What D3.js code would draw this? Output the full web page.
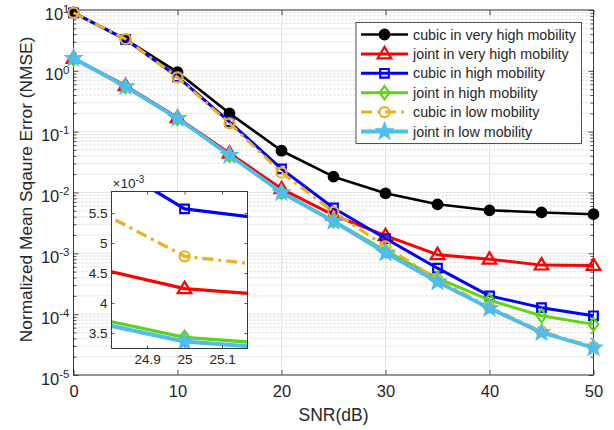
<!DOCTYPE html>
<html>
<head>
<meta charset="utf-8">
<script src="https://cdn.jsdelivr.net/npm/d3@7"></script>
<style>
  body { margin: 0; background: #fff; }
  svg { display: block; }
  text { font-family: "Liberation Sans", Arial, Helvetica, sans-serif; fill: #262626; }
</style>
</head>
<body>
<svg id="chart" width="614" height="430"></svg>
<script>
// SNR sweep (dB)
const snr = [0, 5, 10, 15, 20, 25, 30, 35, 40, 45, 50];

// NMSE per scheme
const cubicVeryHigh = [9.1, 3.3, 0.95, 0.2, 0.0486, 0.0182, 0.0097, 0.0064, 0.0051, 0.0047, 0.0044];
const jointVeryHigh = [1.6, 0.57, 0.17, 0.044, 0.0115, 0.00424, 0.00195, 0.00095, 0.0008, 0.00064, 0.00063];
const cubicHigh     = [9.0, 3.3, 0.8, 0.145, 0.0245, 0.00557, 0.00175, 0.00057, 0.0002, 0.000128, 0.000094];
const jointHigh     = [1.58, 0.55, 0.165, 0.041, 0.0101, 0.00343, 0.0011, 0.00039, 0.00017, 0.000094, 0.000068];
const cubicLow      = [9.0, 3.34, 0.78, 0.137, 0.0212, 0.00478, 0.0013, 0.00037, 0.00013, 0.000052, 0.000029];
const jointLow      = [1.61, 0.55, 0.166, 0.041, 0.0100, 0.00336, 0.00102, 0.00034, 0.000125, 0.00005, 0.000028];

const seriesNames = [
  "cubic in very high mobility",
  "joint in very high mobility",
  "cubic in high mobility",
  "joint in high mobility",
  "cubic in low mobility",
  "joint in low mobility"
];

// Axis ticks
const xTicks = [0, 10, 20, 30, 40, 50];
const yExponents = [1, 0, -1, -2, -3, -4, -5];
const insetXTicks = [24.9, 25, 25.1];
const insetYTicks = [0.0035, 0.004, 0.0045, 0.005, 0.0055];

const seriesValues = [cubicVeryHigh, jointVeryHigh, cubicHigh, jointHigh, cubicLow, jointLow];
const styles = [
  { color: "#000000", width: 2.6, dash: null, marker: "circle", fill: true },
  { color: "#ff0000", width: 3.0, dash: null, marker: "triangle", fill: false },
  { color: "#0000ff", width: 3.0, dash: null, marker: "square", fill: false },
  { color: "#5fd316", width: 3.0, dash: null, marker: "diamond", fill: false },
  { color: "#edb120", width: 3.0, dash: "11,5,3,5", marker: "ocircle", fill: false },
  { color: "#4dbeee", width: 3.8, dash: null, marker: "star", fill: true }
];
const series = seriesNames.map((name, i) => ({
  name, style: styles[i],
  points: snr.map((s, j) => ({ x: s, y: seriesValues[i][j] }))
}));

const svg = d3.select("#chart");
const M = { left: 73.5, right: 593.5, top: 10, bottom: 375 };
const W = M.right - M.left, H = M.bottom - M.top;
const axisColor = "#262626";
const FONT = '"Liberation Sans", Arial, sans-serif';

const x = d3.scaleLinear().domain([0, 50]).range([M.left, M.right]);
const y = d3.scaleLog().domain([1e-5, 10]).range([M.bottom, M.top]);

// marker shapes
function markerPath(kind) {
  switch (kind) {
    case "circle": return d3.symbol(d3.symbolCircle, 72)();
    case "ocircle": return d3.symbol(d3.symbolCircle, 80)();
    case "triangle": return "M0,-7L6.8,4.4L-6.8,4.4Z";
    case "square": return "M-4.3,-4.3H4.3V4.3H-4.3Z";
    case "diamond": return "M0,-6.6L4.8,0L0,6.6L-4.8,0Z";
    case "star": {
      const pts = [];
      for (let k = 0; k < 10; k++) {
        const r = k % 2 === 0 ? 9 : 3.7;
        const a = -Math.PI / 2 + k * Math.PI / 5;
        pts.push([r * Math.cos(a), r * Math.sin(a)]);
      }
      return "M" + pts.map(p => p.join(",")).join("L") + "Z";
    }
  }
}
function drawMarker(sel, st) {
  sel.append("path")
    .attr("d", markerPath(st.marker))
    .attr("fill", st.fill ? st.color : "none")
    .attr("stroke", st.color)
    .attr("stroke-width", st.marker === "star" ? 1.2 : 2.2)
    .attr("stroke-linejoin", "miter");
}

// grid: minor (dotted) then major
const minorVals = [];
for (let e = -5; e < 1; e++) for (let m = 2; m <= 9; m++) minorVals.push(m * Math.pow(10, e));
const grid = svg.append("g");
grid.selectAll(".minor").data(minorVals).join("line")
  .attr("x1", M.left).attr("x2", M.right)
  .attr("y1", d => y(d)).attr("y2", d => y(d))
  .attr("stroke", "#c4c4c4").attr("stroke-width", 0.7).attr("stroke-dasharray", "2,2");
grid.selectAll(".hmaj").data(yExponents.map(e => Math.pow(10, e))).join("line")
  .attr("x1", M.left).attr("x2", M.right)
  .attr("y1", d => y(d)).attr("y2", d => y(d))
  .attr("stroke", "#dedede").attr("stroke-width", 0.8);
grid.selectAll(".vmaj").data(xTicks).join("line")
  .attr("x1", d => x(d)).attr("x2", d => x(d))
  .attr("y1", M.top).attr("y2", M.bottom)
  .attr("stroke", "#dedede").attr("stroke-width", 0.8);

// axes with inward ticks
const fmt = () => "";
const axBottom = svg.append("g").attr("transform", `translate(0,${M.bottom})`)
  .call(d3.axisBottom(x).tickValues(xTicks).tickSizeInner(-5).tickSizeOuter(0).tickPadding(10));
const axTop = svg.append("g").attr("transform", `translate(0,${M.top})`)
  .call(d3.axisTop(x).tickValues(xTicks).tickSizeInner(-5).tickSizeOuter(0).tickFormat(fmt));
const axLeft = svg.append("g").attr("transform", `translate(${M.left},0)`)
  .call(d3.axisLeft(y).tickValues(yExponents.map(e => Math.pow(10, e))).tickSizeInner(-5).tickSizeOuter(0).tickPadding(4));
const axRight = svg.append("g").attr("transform", `translate(${M.right},0)`)
  .call(d3.axisRight(y).tickValues(yExponents.map(e => Math.pow(10, e))).tickSizeInner(-5).tickSizeOuter(0).tickFormat(fmt));
const minLeft = svg.append("g").attr("transform", `translate(${M.left},0)`)
  .call(d3.axisLeft(y).tickValues(minorVals).tickSizeInner(-3).tickSizeOuter(0).tickFormat(fmt));
const minRight = svg.append("g").attr("transform", `translate(${M.right},0)`)
  .call(d3.axisRight(y).tickValues(minorVals).tickSizeInner(-3).tickSizeOuter(0).tickFormat(fmt));
[axBottom, axTop, axLeft, axRight, minLeft, minRight].forEach(a => {
  a.select(".domain").remove();
  a.attr("font-family", FONT);
  a.selectAll("line").attr("stroke", axisColor).attr("stroke-width", 0.8);
});
axBottom.attr("font-size", 16.5);
axBottom.selectAll("text").attr("fill", axisColor);
axLeft.attr("font-size", 16.5);
axLeft.selectAll(".tick text").each(function (d) {
  const t = d3.select(this).text(null).attr("fill", axisColor).attr("dy", "0.55em");
  t.append("tspan").text("10");
  t.append("tspan").attr("dy", "-0.6em").attr("font-size", 11.5)
    .text(String(Math.round(Math.log10(d))));
});

// plot frame
svg.append("rect").attr("x", M.left).attr("y", M.top).attr("width", W).attr("height", H)
  .attr("fill", "none").attr("stroke", axisColor).attr("stroke-width", 0.9);

// data
const line = d3.line().x(d => x(d.x)).y(d => y(d.y));
series.forEach(s => {
  const g = svg.append("g");
  g.append("path").datum(s.points).attr("d", line)
    .attr("fill", "none").attr("stroke", s.style.color).attr("stroke-width", s.style.width)
    .attr("stroke-dasharray", s.style.dash).attr("stroke-linejoin", "round");
  g.selectAll("g.m").data(s.points).join("g")
    .attr("transform", d => `translate(${x(d.x)},${y(d.y)})`)
    .each(function () { drawMarker(d3.select(this), s.style); });
});

// axis titles
svg.append("text").attr("x", M.left + W / 2).attr("y", 421).attr("text-anchor", "middle")
  .attr("font-size", 17.5).text("SNR(dB)");
svg.append("text").attr("transform", `translate(32,${M.top + H / 2 - 3}) rotate(-90)`)
  .attr("text-anchor", "middle").attr("font-size", 17.3)
  .text("Normalized Mean Sqaure Error (NMSE)");

// legend
const L = { x: 356, y: 22.5, w: 225.5, h: 121, row: 19.4 };
const lg = svg.append("g");
lg.append("rect").attr("x", L.x).attr("y", L.y).attr("width", L.w).attr("height", L.h)
  .attr("fill", "#fff").attr("stroke", axisColor).attr("stroke-width", 0.8);
series.forEach((s, i) => {
  const cy = L.y + 12 + i * L.row;
  const row = lg.append("g");
  row.append("line").attr("x1", L.x + 5).attr("x2", L.x + 52).attr("y1", cy).attr("y2", cy)
    .attr("stroke", s.style.color).attr("stroke-width", s.style.width)
    .attr("stroke-dasharray", s.style.dash);
  row.append("g").attr("transform", `translate(${L.x + 28.5},${cy})`)
    .call(g => drawMarker(g, s.style));
  row.append("text").attr("x", L.x + 57).attr("y", cy).attr("dy", "0.35em")
    .attr("font-size", 14.3).text(s.name);
});

// inset: zoom around SNR = 25 dB on linear scales
const I = { left: 111.5, top: 191.5, right: 247.5, bottom: 348.5 };
const xi = d3.scaleLinear().domain([24.805, 25.168]).range([I.left, I.right]);
const yi = d3.scaleLinear().domain([0.003243, 0.00586]).range([I.bottom, I.top]);
const ig = svg.append("g");
ig.append("rect").attr("x", I.left).attr("y", I.top)
  .attr("width", I.right - I.left).attr("height", I.bottom - I.top).attr("fill", "#fff");
svg.append("defs").append("clipPath").attr("id", "insetClip")
  .append("rect").attr("x", I.left).attr("y", I.top)
  .attr("width", I.right - I.left).attr("height", I.bottom - I.top);
const iData = ig.append("g").attr("clip-path", "url(#insetClip)");
const iline = d3.line().x(d => xi(d.x)).y(d => yi(d.y));
series.forEach(s => {
  iData.append("path").datum(s.points).attr("d", iline)
    .attr("fill", "none").attr("stroke", s.style.color).attr("stroke-width", s.style.width + 0.3)
    .attr("stroke-dasharray", s.style.dash).attr("stroke-linejoin", "round");
  iData.selectAll(null).data(s.points.filter(p => p.x === 25)).join("g")
    .attr("transform", d => `translate(${xi(d.x)},${yi(d.y)})`)
    .each(function () { drawMarker(d3.select(this), s.style); });
});
const iB = ig.append("g").attr("transform", `translate(0,${I.bottom})`)
  .call(d3.axisBottom(xi).tickValues(insetXTicks).tickSizeInner(-3).tickSizeOuter(0).tickPadding(6).tickFormat(d3.format(".1~f")));
const iT = ig.append("g").attr("transform", `translate(0,${I.top})`)
  .call(d3.axisTop(xi).tickValues(insetXTicks).tickSizeInner(-3).tickSizeOuter(0).tickFormat(fmt));
const iL = ig.append("g").attr("transform", `translate(${I.left},0)`)
  .call(d3.axisLeft(yi).tickValues(insetYTicks).tickSizeInner(-3).tickSizeOuter(0).tickPadding(4).tickFormat(d => d3.format("~g")(+(d * 1000).toFixed(1))));
const iR = ig.append("g").attr("transform", `translate(${I.right},0)`)
  .call(d3.axisRight(yi).tickValues(insetYTicks).tickSizeInner(-3).tickSizeOuter(0).tickFormat(fmt));
[iB, iT, iL, iR].forEach(a => {
  a.select(".domain").remove();
  a.attr("font-size", 13.5).attr("font-family", FONT);
  a.selectAll("line").attr("stroke", axisColor).attr("stroke-width", 0.8);
  a.selectAll("text").attr("fill", axisColor);
});
ig.append("rect").attr("x", I.left).attr("y", I.top)
  .attr("width", I.right - I.left).attr("height", I.bottom - I.top)
  .attr("fill", "none").attr("stroke", axisColor).attr("stroke-width", 0.9);
const exp = ig.append("text").attr("x", I.left + 1).attr("y", I.top - 4).attr("font-size", 13.5);
exp.append("tspan").text("\u00d710");
exp.append("tspan").attr("dy", "-0.5em").attr("font-size", 10).text("-3");
</script>
</body>
</html>
